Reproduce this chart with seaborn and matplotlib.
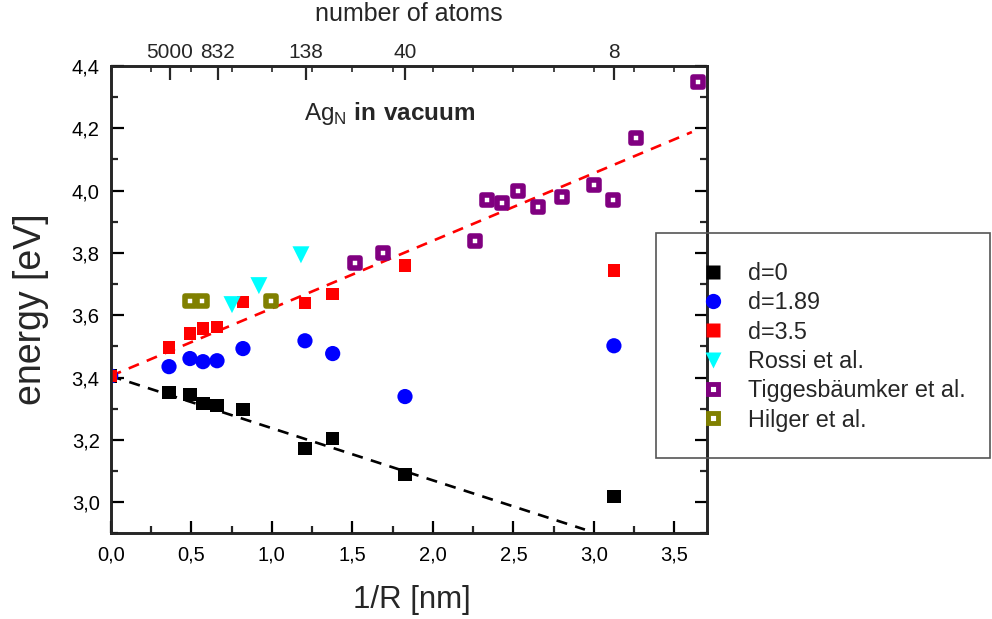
import matplotlib
matplotlib.use("Agg")
import matplotlib.pyplot as plt
import matplotlib.patches as mpatches
from matplotlib.ticker import FuncFormatter, MultipleLocator, FixedLocator
from matplotlib.lines import Line2D
import numpy as np
import pandas as pd
import seaborn as sns

# ---- data: optical resonance energy of Ag_N clusters vs inverse radius ----
x_d0 = [0.0, 0.362, 0.492, 0.573, 0.660, 0.821, 1.206, 1.378, 1.827, 3.124]
y_d0 = [3.405, 3.352, 3.345, 3.316, 3.310, 3.297, 3.172, 3.204, 3.089, 3.018]

x_d189 = [0.0, 0.362, 0.492, 0.573, 0.660, 0.821, 1.206, 1.378, 1.827, 3.124]
y_d189 = [3.405, 3.435, 3.461, 3.451, 3.454, 3.493, 3.518, 3.477, 3.339, 3.502]

x_d35 = [0.0, 0.362, 0.492, 0.573, 0.660, 0.821, 1.206, 1.378, 1.827, 3.124]
y_d35 = [3.405, 3.496, 3.541, 3.557, 3.563, 3.643, 3.640, 3.669, 3.759, 3.743]

x_rossi = [0.753, 0.920, 1.181]
y_rossi = [3.634, 3.695, 3.794]

x_tigg = [1.516, 1.690, 2.261, 2.335, 2.428, 2.527, 2.651, 2.800, 2.998, 3.116, 3.261, 3.646]
y_tigg = [3.768, 3.800, 3.839, 3.970, 3.961, 3.999, 3.948, 3.980, 4.018, 3.970, 4.169, 4.349]

x_hilger = [0.492, 0.566, 0.995]
y_hilger = [3.647, 3.647, 3.647]

# linear trends (end points)
fit_red_x = [0.0, 3.608]
fit_red_y = [3.405, 4.188]
fit_black_x = [0.0, 2.944]
fit_black_y = [3.405, 2.912]

# top axis: cluster sizes, 1/R with R = r_s * N^(1/3)
atom_counts = [5000, 832, 138, 40, 8]
r_s = 0.16  # nm

sns.set_theme(style="ticks")
plt.rcParams["font.family"] = ["Liberation Sans", "DejaVu Sans"]
plt.rcParams["mathtext.fontset"] = "custom"
plt.rcParams["mathtext.rm"] = "Liberation Sans"
plt.rcParams["mathtext.bf"] = "Liberation Sans:bold"

fig = plt.figure(figsize=(9.92, 6.19), dpi=100)
ax = fig.add_axes([0.1116, 0.1384, 0.6008, 0.755])

# trend lines
sns.lineplot(x=fit_black_x, y=fit_black_y, ax=ax, color="black", lw=1.9,
             dashes=False, linestyle=(0, (4.2, 3.2)), legend=False)
sns.lineplot(x=fit_red_x, y=fit_red_y, ax=ax, color="red", lw=1.9,
             dashes=False, linestyle=(0, (4.2, 3.2)), legend=False)

series = [
    ("d=0", x_d0, y_d0, dict(marker="s", color="black", s=95, edgecolor="none")),
    ("d=1.89", x_d189, y_d189, dict(marker="o", color="blue", s=120, edgecolor="none")),
    ("d=3.5", x_d35, y_d35, dict(marker="s", color="red", s=80, edgecolor="none")),
    ("Rossi et al.", x_rossi, y_rossi, dict(marker="v", color="cyan", s=150, edgecolor="none")),
    ("Tiggesbäumker et al.", x_tigg, y_tigg,
     dict(marker="s", facecolor="white", edgecolor="purple", s=60, linewidth=4)),
    ("Hilger et al.", x_hilger, y_hilger,
     dict(marker="s", facecolor="white", edgecolor="olive", s=60, linewidth=4)),
]

handles = []
for label, xs, ys, kw in series:
    df = pd.DataFrame({"x": xs, "y": ys})
    sns.scatterplot(data=df, x="x", y="y", ax=ax, zorder=3, legend=False, **kw)
    if "facecolor" in kw:
        h = Line2D([], [], ls="none", marker="s", markersize=7.5,
                   markerfacecolor="white", markeredgecolor=kw["edgecolor"],
                   markeredgewidth=3.5)
    else:
        ms = {"s": 9.5, "o": 11, "v": 11}[kw["marker"]]
        h = Line2D([], [], ls="none", marker=kw["marker"], markersize=ms,
                   markerfacecolor=kw["color"], markeredgecolor="none")
    handles.append((h, label))

ax.set_xlim(0, 3.7)
ax.set_ylim(2.9, 4.4)

comma = FuncFormatter(lambda v, p: f"{v:.1f}".replace(".", ","))
ax.xaxis.set_major_locator(MultipleLocator(0.5))
ax.xaxis.set_minor_locator(MultipleLocator(0.25))
ax.yaxis.set_major_locator(MultipleLocator(0.2))
ax.yaxis.set_minor_locator(MultipleLocator(0.1))
ax.xaxis.set_major_formatter(comma)
ax.yaxis.set_major_formatter(comma)

ax.tick_params(axis="both", which="major", direction="in", length=9, width=1.6,
               labelsize=14.5, colors="black")
ax.tick_params(axis="both", which="minor", direction="in", length=5, width=1.6)
ax.tick_params(axis="x", which="major", pad=9)
ax.tick_params(axis="y", which="major", pad=8)
ax.tick_params(axis="y", which="both", right=True)
for side in ["left", "bottom", "right", "top"]:
    ax.spines[side].set_visible(True)
    ax.spines[side].set_linewidth(1.8)
    ax.spines[side].set_color("black")

ax.set_xlabel("1/R [nm]", fontsize=22.5)
ax.set_ylabel("energy [eV]", fontsize=27)
ax.xaxis.set_label_coords(0.505, -0.111)
ax.yaxis.set_label_coords(-0.103, 0.48)

# top axis with number of atoms
top = ax.twiny()
top.set_xlim(ax.get_xlim())
top_pos = [1.0 / (r_s * n ** (1.0 / 3.0)) for n in atom_counts]
top.xaxis.set_major_locator(FixedLocator(top_pos))
top.xaxis.set_minor_locator(MultipleLocator(0.25))
top.set_xticklabels([str(n) for n in atom_counts])
top.tick_params(axis="x", which="major", direction="in", length=10, width=1.6,
                labelsize=15, pad=3)
top.tick_params(axis="x", which="minor", direction="in", length=4, width=1.2)
top.set_xlabel("number of atoms", fontsize=18, labelpad=16)
for side in top.spines.values():
    side.set_linewidth(1.8)

ax.text(1.73, 4.247, r"$\mathrm{Ag}_\mathrm{N}$ $\mathbf{in\ vacuum}$",
        fontsize=17.5, ha="center", va="center")

# legend box
fig.patches.append(mpatches.Rectangle((656 / 992, 1 - 458 / 619), 334 / 992, 225 / 619,
                                      transform=fig.transFigure, fill=False,
                                      edgecolor="#555555", lw=1.2))
fig.legend([h for h, _ in handles], [l for _, l in handles],
           loc="upper left", bbox_to_anchor=(701 / 992, 1 - 262 / 619),
           frameon=False, fontsize=16.8, handlelength=1.0, handletextpad=1.0,
           labelspacing=0.27, borderpad=0, borderaxespad=0)

fig.savefig("out.png", dpi=100)
